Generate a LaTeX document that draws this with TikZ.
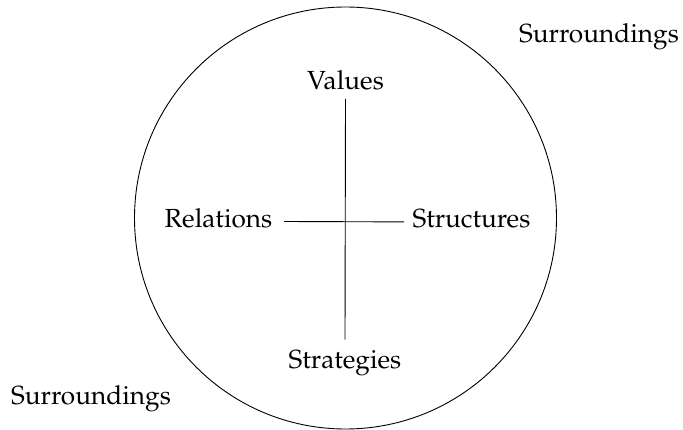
\documentclass[tikz,border=0pt]{standalone}
\usepackage[T1]{fontenc}
\usepackage{mathpazo}
\begin{document}
\begin{tikzpicture}[x=1pt,y=1pt,
  lbl/.style={inner sep=0pt,anchor=base,font=\fontsize{26.2}{31}\selectfont},
  ln/.style={line width=0.9pt}]
\useasboundingbox (0,0) rectangle (683,429);
\node[draw,circle,ln,minimum size=422pt,inner sep=0pt] (circ) at (345.5,211) {};
\node[lbl] (V) at (345.5,339) {Values};
\node[lbl] (S) at (345,61) {Strategies};
\node[lbl] (R) at (218.5,201) {Relations};
\node[lbl] (T) at (471.5,201) {Structures};
\node[lbl] (U1) at (599,386) {Surroundings};
\node[lbl] (U2) at (91,25) {Surroundings};
\draw[ln] ([yshift=-8pt]V.south) -- ([yshift=10pt]S.north);
\draw[ln] ([xshift=11.5pt,yshift=-2.7pt]R.east) -- ([xshift=-8.3pt,yshift=-2.7pt]T.west);
\end{tikzpicture}
\end{document}
